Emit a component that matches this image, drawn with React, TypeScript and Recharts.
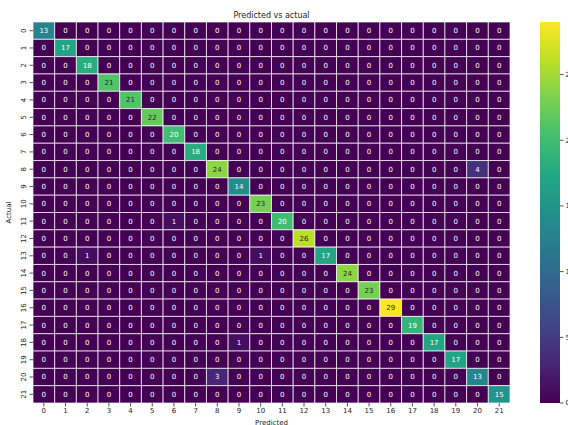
import React from 'react';
import { ScatterChart, Scatter, XAxis, YAxis, ReferenceArea } from 'recharts';

const classLabels = ['0','1','2','3','4','5','6','7','8','9','10','11','12','13','14','15','16','17','18','19','20','21'];
const diagonalCounts = [13,17,18,21,21,22,20,18,24,14,23,20,26,17,24,23,29,19,17,17,13,15];
const offActual = [8, 11, 13, 13, 18, 20];
const offPredicted = [20, 6, 2, 10, 9, 8];
const offCounts = [4, 1, 1, 1, 1, 3];
const colorbarTicks = [0, 5, 10, 15, 20, 25];

const viridisStops = ['#440154','#482475','#414487','#355f8d','#2a788e','#21918c','#22a884','#44bf70','#7ad151','#bddf26','#fde725'];

function hexToRgb(h: string) {
  return [parseInt(h.slice(1,3),16), parseInt(h.slice(3,5),16), parseInt(h.slice(5,7),16)];
}
function viridis(t: number) {
  const tt = Math.max(0, Math.min(1, t)) * (viridisStops.length - 1);
  const i = Math.min(Math.floor(tt), viridisStops.length - 2);
  const f = tt - i;
  const a = hexToRgb(viridisStops[i]);
  const b = hexToRgb(viridisStops[i + 1]);
  const c = a.map((v, k) => Math.round(v + (b[k] - v) * f));
  return `rgb(${c[0]},${c[1]},${c[2]})`;
}

const n = classLabels.length;
const matrix: number[][] = [];
for (let r = 0; r < n; r++) {
  const row: number[] = [];
  for (let c = 0; c < n; c++) row.push(r === c ? diagonalCounts[r] : 0);
  matrix.push(row);
}
offActual.forEach((r, i) => { matrix[r][offPredicted[i]] = offCounts[i]; });
const vmax = Math.max(...matrix.flat());

const cells: { x: number; y: number; r: number; c: number; v: number }[] = [];
for (let r = 0; r < n; r++) for (let c = 0; c < n; c++) cells.push({ x: c + 0.5, y: r + 0.5, r, c, v: matrix[r][c] });

const tickPos = classLabels.map((_, i) => i + 0.5);
const FONT = 'DejaVu Sans, sans-serif';
const TICK = '#262626';

const PLOT_TOP = 22, PLOT_BOTTOM = 403;

const YTick = (props: any) => {
  const { x, y, payload } = props;
  return (
    <g transform={`translate(${x},${y})`}>
      <text transform="rotate(-90)" textAnchor="middle" fontSize={7} fontFamily={FONT} fill={TICK}>
        {classLabels[Math.floor(payload.value)]}
      </text>
    </g>
  );
};

const CellText = (props: any) => {
  const { cx, cy, payload } = props;
  const dark = payload.v >= 21;
  return (
    <text x={cx} y={cy} dy="0.35em" textAnchor="middle" fontSize={7} fontFamily={FONT} fill={dark ? '#262626' : '#ffffff'}>
      {payload.v}
    </text>
  );
};

export default function App() {
  return (
    <div style={{ position: 'absolute', left: 0, top: 0, width: 568, height: 425, background: '#fff', overflow: 'hidden' }}>
      <ScatterChart width={568} height={425} margin={{ top: 22, right: 58, bottom: 0, left: 0 }}>
        <XAxis
          type="number"
          dataKey="x"
          domain={[0, n]}
          ticks={tickPos}
          interval={0}
          allowDataOverflow
          axisLine={false}
          tickSize={3.5}
          tickMargin={1.5}
          height={22}
          tick={{ fontSize: 7, fontFamily: FONT, fill: TICK }}
          tickLine={{ stroke: TICK, strokeWidth: 0.8 }}
          tickFormatter={(v: number) => classLabels[Math.floor(v)]}
        />
        <YAxis
          type="number"
          dataKey="y"
          domain={[0, n]}
          reversed
          ticks={tickPos}
          interval={0}
          allowDataOverflow
          axisLine={false}
          tickSize={3.5}
          tickMargin={4}
          width={33}
          tick={<YTick />}
          tickLine={{ stroke: TICK, strokeWidth: 0.8 }}
        />
        {cells.map((d) => (
          <ReferenceArea
            key={`${d.r}-${d.c}`}
            x1={d.c}
            x2={d.c + 1}
            y1={d.r}
            y2={d.r + 1}
            fill={viridis(d.v / vmax)}
            fillOpacity={1}
            stroke="#ffffff"
            strokeOpacity={0.7}
            strokeWidth={1}
            ifOverflow="visible"
          />
        ))}
        <Scatter data={cells} shape={<CellText />} isAnimationActive={false} />
      </ScatterChart>
      <svg width={568} height={425} style={{ position: 'absolute', left: 0, top: 0, pointerEvents: 'none' }}>
        <defs>
          <linearGradient id="vir" x1="0" y1="1" x2="0" y2="0">
            {viridisStops.map((c, i) => (
              <stop key={i} offset={`${(i / (viridisStops.length - 1)) * 100}%`} stopColor={c} />
            ))}
          </linearGradient>
        </defs>
        <text x={271.5} y={17.5} textAnchor="middle" fontSize={8} fontFamily={FONT} fill={TICK}>Predicted vs actual</text>
        <text x={271.5} y={424.5} textAnchor="middle" fontSize={7} fontFamily={FONT} fill={TICK}>Predicted</text>
        <text transform={`translate(10.5,212.5) rotate(-90)`} textAnchor="middle" fontSize={7} fontFamily={FONT} fill={TICK}>Actual</text>
        <rect x={540} y={PLOT_TOP} width={20} height={PLOT_BOTTOM - PLOT_TOP} fill="url(#vir)" />
        {colorbarTicks.map((t) => {
          const y = PLOT_BOTTOM - (t / vmax) * (PLOT_BOTTOM - PLOT_TOP);
          return (
            <g key={t}>
              <line x1={560} x2={563.5} y1={y} y2={y} stroke={TICK} strokeWidth={0.8} />
              <text x={565.5} y={y} dy="0.35em" fontSize={7} fontFamily={FONT} fill={TICK}>{t}</text>
            </g>
          );
        })}
      </svg>
    </div>
  );
}
